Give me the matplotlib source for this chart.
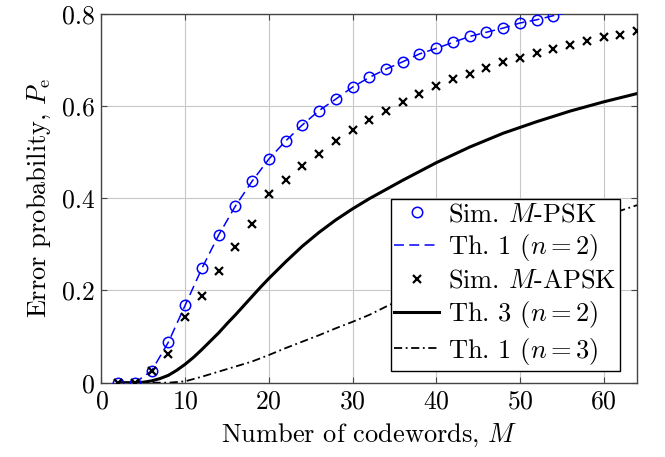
import matplotlib
matplotlib.use("Agg")
import matplotlib.pyplot as plt
import numpy as np

plt.rcParams['font.family'] = 'serif'
plt.rcParams['font.serif'] = ['cmr10']
plt.rcParams['mathtext.fontset'] = 'cm'
plt.rcParams['axes.formatter.use_mathtext'] = True

# Sim. M-PSK (circulos) y Th. 1 (n=2)
m_psk = np.arange(2, 56, 2)
pe_psk = [0.0, 0.0, 0.026, 0.088, 0.168, 0.248, 0.320, 0.383, 0.437, 0.485,
          0.524, 0.559, 0.590, 0.615, 0.641, 0.662, 0.680, 0.696, 0.713, 0.725,
          0.738, 0.751, 0.760, 0.769, 0.780, 0.787, 0.796]
m_th1n2 = np.arange(2, 66, 2)
pe_th1n2 = pe_psk + [0.804, 0.812, 0.820, 0.827, 0.834]

# Sim. M-APSK (cruces)
m_apsk = np.arange(2, 66, 2)
pe_apsk = [0.0, 0.0, 0.026, 0.062, 0.142, 0.187, 0.243, 0.295, 0.344, 0.409,
           0.440, 0.471, 0.497, 0.524, 0.547, 0.570, 0.590, 0.608, 0.626, 0.644,
           0.658, 0.670, 0.683, 0.695, 0.704, 0.715, 0.723, 0.733, 0.741, 0.749,
           0.755, 0.762]

# Th. 3 (n=2)
m_th3 = [2, 4, 5, 6, 7, 8, 9, 10, 11, 12, 13, 14, 15, 16, 17, 18, 19, 20,
         22, 24, 26, 28, 30, 32, 34, 36, 38, 40, 44, 48, 52, 56, 60, 64]
pe_th3 = [0.0, 0.0, 0.001, 0.004, 0.009, 0.016, 0.027, 0.040, 0.055, 0.072,
          0.090, 0.108, 0.128, 0.147, 0.167, 0.187, 0.207, 0.226,
          0.262, 0.296, 0.326, 0.353, 0.377, 0.399, 0.419, 0.439, 0.458,
          0.477, 0.511, 0.541, 0.566, 0.589, 0.609, 0.627]

# Th. 1 (n=3)
m_th1n3 = [2, 4, 6, 8, 10, 12, 14, 16, 18, 20, 22, 24, 26, 28, 30, 32, 34, 36,
           38, 40, 42, 44, 46, 48, 50, 52, 54, 56, 58, 60, 62, 64]
pe_th1n3 = [0.0, 0.0, 0.0, 0.0, 0.003, 0.013, 0.024, 0.035, 0.046, 0.060,
            0.075, 0.089, 0.103, 0.118, 0.132, 0.147, 0.165, 0.182, 0.199,
            0.216, 0.232, 0.248, 0.264, 0.279, 0.294, 0.308, 0.322, 0.335,
            0.348, 0.361, 0.373, 0.385]

fig = plt.figure(figsize=(6.65, 4.57), dpi=100)
ax = fig.add_axes([0.1526, 0.1626, 0.8054, 0.8072])

azul = (0, 0, 1)
ax.plot(m_psk, pe_psk, 'o', color=azul, mfc='none', ms=7.5, mew=1.1,
        label=r'Sim. $M$-PSK', zorder=4)
ax.plot(m_th1n2, pe_th1n2, '--', color=azul, lw=1.1, dashes=(6.5, 3.5),
        label=r'Th. 1 ($n=2$)', zorder=3)
ax.plot(m_apsk, pe_apsk, 'x', color='black', ms=6, mew=1.6,
        label=r'Sim. $M$-APSK', zorder=4)
ax.plot(m_th3, pe_th3, '-', color='black', lw=2.2, label=r'Th. 3 ($n=2$)', zorder=3)
ax.plot(m_th1n3, pe_th1n3, '-.', color='black', lw=1.3, dashes=(4.5, 2, 1, 2),
        label=r'Th. 1 ($n=3$)', zorder=3)

ax.set_xlim(0, 64)
ax.set_ylim(0, 0.8)
ax.set_xticks([0, 10, 20, 30, 40, 50, 60])
ax.set_yticks([0, 0.2, 0.4, 0.6, 0.8])
ax.set_yticklabels(['0', '0.2', '0.4', '0.6', '0.8'])
ax.grid(True, color='#c8c8c8', lw=0.8)
ax.set_axisbelow(True)
ax.tick_params(direction='in', top=True, right=True, length=4, labelsize=18.5,
               color='#444444', pad=5)
for s in ax.spines.values():
    s.set_color('#444444')
    s.set_linewidth(1.0)

ax.set_xlabel(r'Number of codewords, $M$', fontsize=19, labelpad=6)
ax.set_ylabel(r'Error probability, $P_\mathrm{e}$', fontsize=19, labelpad=6)

leg = ax.legend(loc='lower right', bbox_to_anchor=(0.968, 0.033), borderaxespad=0,
                fontsize=19, fancybox=False, framealpha=1, edgecolor='black',
                handlelength=1.7, labelspacing=0.22, handletextpad=0.32,
                borderpad=0.15)
leg.get_frame().set_linewidth(1.0)

fig.savefig('out.png', dpi=100)
